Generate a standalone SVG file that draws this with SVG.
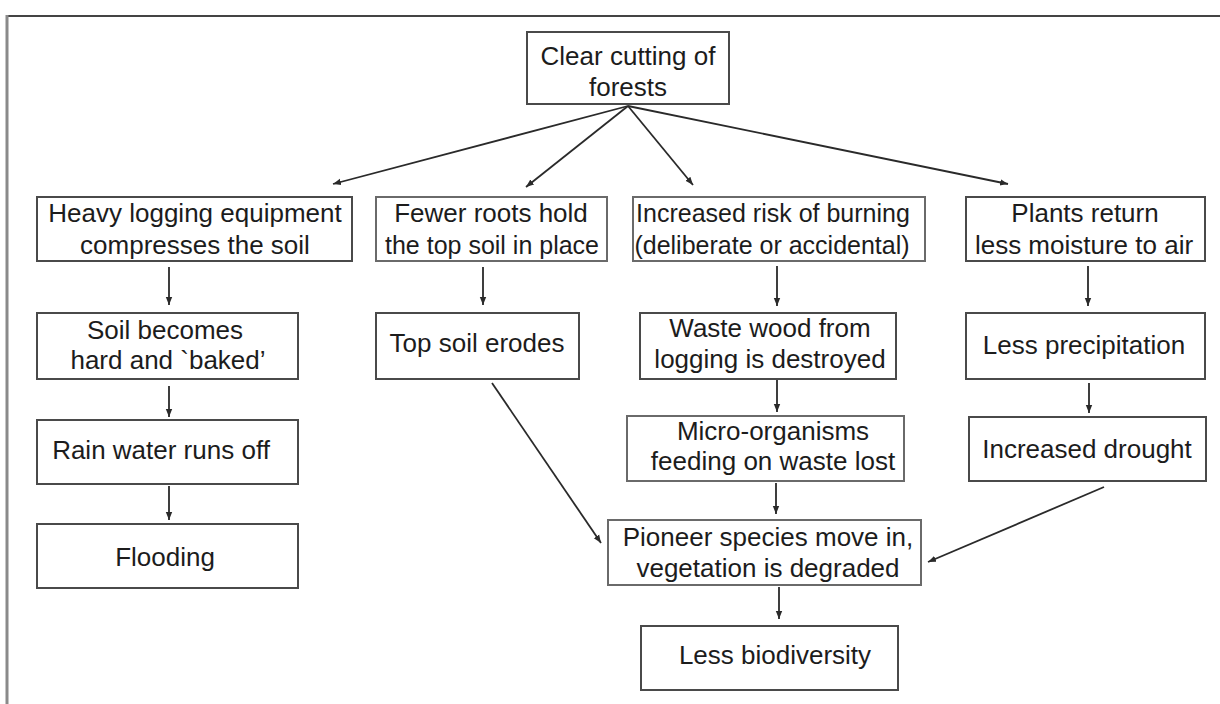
<svg xmlns="http://www.w3.org/2000/svg" width="1220" height="704" viewBox="0 0 1220 704">
<style>
.box{fill:#fff;stroke:#4a4a4a;stroke-width:2}
.lt{stroke:#6a6a6a}
text{font-family:"Liberation Sans",Arial,sans-serif;font-size:26px;fill:#1c1c1c;text-anchor:middle}
.sm{font-size:25px}
.c{stroke:#2a2a2a;stroke-width:1.8;fill:none;marker-end:url(#ah)}
</style>
<defs>
<marker id="ah" markerUnits="userSpaceOnUse" markerWidth="10" markerHeight="10" refX="8" refY="4" orient="auto">
<path d="M0,0.8 L8,4 L0,7.2 Z" fill="#2a2a2a"/>
</marker>
</defs>
<rect width="1220" height="704" fill="#fff"/>
<g id="frame">
<line x1="7" y1="16" x2="1220" y2="16" stroke="#444" stroke-width="2"/>
<line x1="7" y1="15" x2="7" y2="704" stroke="#8a8a8a" stroke-width="3"/>
</g>
<g id="connectors">
<line class="c" x1="628" y1="106" x2="333" y2="184"/>
<line class="c" x1="628" y1="106" x2="526" y2="187"/>
<line class="c" x1="628" y1="106" x2="693" y2="185"/>
<line class="c" x1="628" y1="106" x2="1008" y2="184"/>
<line class="c" x1="169" y1="267" x2="169" y2="305"/>
<line class="c" x1="483" y1="267" x2="483" y2="305"/>
<line class="c" x1="777" y1="266" x2="777" y2="306"/>
<line class="c" x1="1088" y1="266" x2="1088" y2="306"/>
<line class="c" x1="169" y1="386" x2="169" y2="417"/>
<line class="c" x1="777" y1="380" x2="777" y2="412"/>
<line class="c" x1="1089" y1="383" x2="1089" y2="413"/>
<line class="c" x1="169" y1="486" x2="169" y2="520"/>
<line class="c" x1="776" y1="483" x2="776" y2="514"/>
<line class="c" x1="779" y1="587" x2="779" y2="619"/>
<line class="c" x1="492" y1="383" x2="601" y2="543"/>
<line class="c" x1="1104" y1="487" x2="928" y2="562"/>
</g>
<g id="n-root"><rect class="box" x="527" y="32" width="202" height="72"/><text x="628" y="65">Clear cutting of</text><text x="628" y="96">forests</text></g>
<g id="n-heavy"><rect class="box" x="37" y="197" width="315" height="64"/><text x="195" y="222">Heavy logging equipment</text><text x="195" y="254">compresses the soil</text></g>
<g id="n-roots"><rect class="box lt" x="376" y="197" width="231" height="64"/><text x="491" y="222">Fewer roots hold</text><text x="492" y="254" class="sm">the top soil in place</text></g>
<g id="n-burn"><rect class="box lt" x="633" y="197" width="292" height="64"/><text class="sm" x="773" y="222">Increased risk of burning</text><text class="sm" x="772" y="254">(deliberate or accidental)</text></g>
<g id="n-plants"><rect class="box" x="966" y="197" width="239" height="64"/><text x="1085" y="222">Plants return</text><text x="1084" y="254">less moisture to air</text></g>
<g id="n-soil"><rect class="box" x="37" y="313" width="261" height="66"/><text x="165" y="339">Soil becomes</text><text x="168" y="369">hard and `baked’</text></g>
<g id="n-erode"><rect class="box" x="376" y="313" width="203" height="66"/><text x="477" y="352">Top soil erodes</text></g>
<g id="n-waste"><rect class="box" x="640" y="313" width="256" height="66"/><text x="770" y="337">Waste wood from</text><text x="770" y="368">logging is destroyed</text></g>
<g id="n-precip"><rect class="box" x="966" y="313" width="239" height="66"/><text x="1084" y="354">Less precipitation</text></g>
<g id="n-rain"><rect class="box" x="37" y="420" width="261" height="64"/><text x="161" y="459">Rain water runs off</text></g>
<g id="n-micro"><rect class="box lt" x="627" y="416" width="277" height="65"/><text x="773" y="440">Micro-organisms</text><text x="773" y="470">feeding on waste lost</text></g>
<g id="n-drought"><rect class="box" x="969" y="417" width="237" height="64"/><text x="1087" y="458">Increased drought</text></g>
<g id="n-flood"><rect class="box" x="37" y="524" width="261" height="64"/><text x="165" y="566">Flooding</text></g>
<g id="n-pioneer"><rect class="box lt" x="608" y="520" width="313" height="65"/><text x="768" y="546">Pioneer species move in,</text><text x="768" y="577">vegetation is degraded</text></g>
<g id="n-bio"><rect class="box" x="641" y="626" width="257" height="64"/><text x="775" y="664">Less biodiversity</text></g>
</svg>
